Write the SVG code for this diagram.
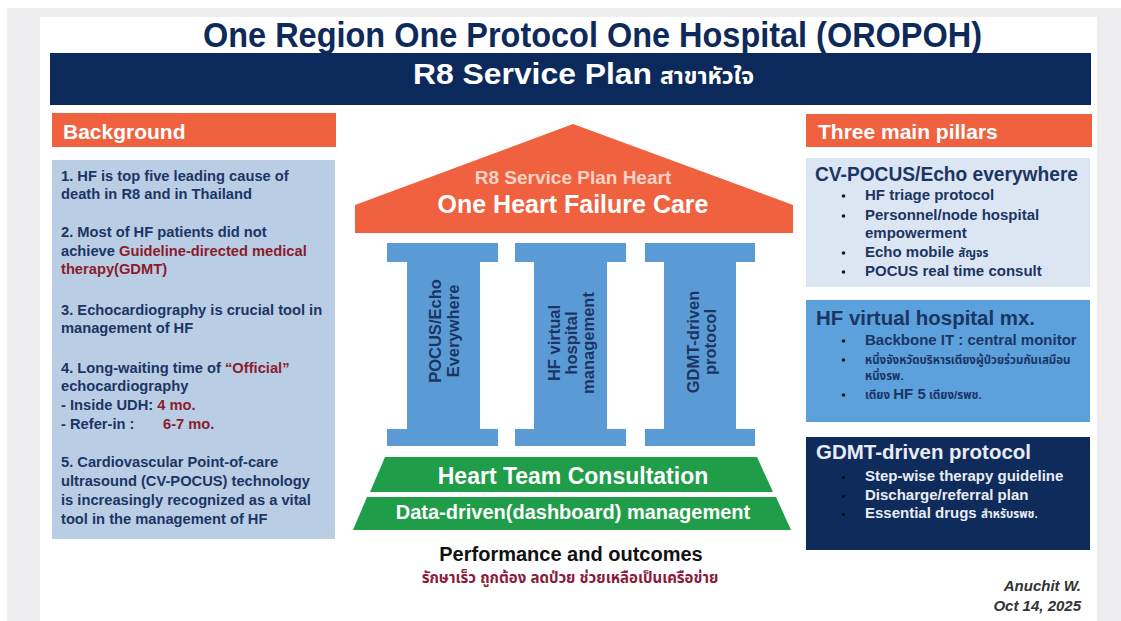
<svg xmlns="http://www.w3.org/2000/svg" width="1121" height="621" viewBox="0 0 1121 621">
  <style>
    text { font-family: "Liberation Sans", Arial, "Noto Sans Thai", "Noto Sans", sans-serif; font-weight: bold; }
    .navy { fill: #1b3564; }
    .red { fill: #8b1c2c; }
    .white { fill: #ffffff; }
    .bg { font-size: 14.7px; }
    .hdr { font-size: 21px; fill: #ffffff; }
    .ttl { font-size: 20px; }
    .item { font-size: 15px; }
    .thai-s { font-size: 11.5px; }
    .pil { font-size: 16.5px; fill: #1b3564; }
    .orange { fill: #f0623f; }
    .pillar { fill: #5b9bd5; }
    .green { fill: #1f9d48; }
    .dot { fill: #1a1a1a; }
  </style>

  <!-- page backdrop -->
  <rect x="0" y="0" width="1121" height="621" fill="#ffffff"/>
  <rect x="7" y="8" width="1114" height="613" fill="#eeeef0"/>
  <rect x="40" y="17" width="1057" height="604" fill="#ffffff"/>

  <!-- heading -->
  <g id="title">
    <text x="203" y="47" font-size="35" fill="#0e2a5a" textLength="779" lengthAdjust="spacingAndGlyphs">One Region One Protocol One Hospital (OROPOH)</text>
  </g>
  <g id="banner">
    <rect x="50" y="53" width="1041" height="52" fill="#0b2a5b"/>
    <text x="413" y="84" font-size="30" class="white" textLength="239" lengthAdjust="spacingAndGlyphs">R8 Service Plan</text>
    <text x="660" y="84" font-size="23" class="white">สาขาหัวใจ</text>
  </g>

  <!-- left column -->
  <g id="background-header">
    <rect x="52" y="113" width="284" height="34" class="orange"/>
    <text x="63" y="139" class="hdr">Background</text>
  </g>
  <g id="background-box">
    <rect x="52" y="160" width="283" height="379" fill="#b9cde5"/>
    <g class="bg navy">
      <text x="61" y="181">1. HF is top five leading cause of</text>
      <text x="61" y="199">death in R8 and in Thailand</text>
      <text x="61" y="237">2. Most of HF patients did not</text>
      <text x="61" y="256">achieve <tspan class="red">Guideline-directed medical</tspan></text>
      <text x="61" y="274" class="red">therapy(GDMT)</text>
      <text x="61" y="315">3. Echocardiography is crucial tool in</text>
      <text x="61" y="333">management of HF</text>
      <text x="61" y="373">4. Long-waiting time of <tspan class="red">“Official”</tspan></text>
      <text x="61" y="391">echocardiography</text>
      <text x="61" y="410">- Inside UDH:  <tspan class="red">4 mo.</tspan></text>
      <text x="61" y="429">- Refer-in :  <tspan x="163" class="red">6-7 mo.</tspan></text>
      <text x="61" y="467">5. Cardiovascular Point-of-care</text>
      <text x="61" y="486">ultrasound (CV-POCUS) technology</text>
      <text x="61" y="505">is increasingly recognized as a vital</text>
      <text x="61" y="524">tool in the management of HF</text>
    </g>
  </g>

  <!-- centre: roof, pillars, foundation -->
  <g id="roof">
    <polygon points="573,124 793,205 793,233 355,233 355,205" class="orange"/>
    <text x="573" y="184" font-size="19" fill="#fbd3c6" text-anchor="middle">R8 Service Plan Heart</text>
    <text x="573" y="213" font-size="25" class="white" text-anchor="middle">One Heart Failure Care</text>
  </g>

  <g id="pillar-pocus">
    <path d="M387,243 H498 V262 H480 V429 H498 V446 H387 V429 H407 V262 H387 Z" class="pillar"/>
    <g transform="translate(443,331) rotate(-90)" class="pil">
      <text x="0" y="-2" text-anchor="middle">POCUS/Echo</text>
      <text x="0" y="16" text-anchor="middle">Everywhere</text>
    </g>
  </g>
  <g id="pillar-virtual">
    <path d="M515,243 H626 V262 H607 V429 H626 V446 H515 V429 H534 V262 H515 Z" class="pillar"/>
    <g transform="translate(570,343) rotate(-90)" class="pil">
      <text x="0" y="-10" text-anchor="middle">HF virtual</text>
      <text x="0" y="7" text-anchor="middle">hospital</text>
      <text x="0" y="24" text-anchor="middle">management</text>
    </g>
  </g>
  <g id="pillar-gdmt">
    <path d="M645,243 H755 V262 H736 V429 H755 V446 H645 V429 H664 V262 H645 Z" class="pillar"/>
    <g transform="translate(701,342) rotate(-90)" class="pil">
      <text x="0" y="-2" text-anchor="middle">GDMT-driven</text>
      <text x="0" y="15" text-anchor="middle">protocol</text>
    </g>
  </g>

  <g id="heart-team">
    <polygon points="385,457 757,457 773,492 370,492" class="green"/>
    <text x="573" y="484" font-size="23" class="white" text-anchor="middle">Heart Team Consultation</text>
  </g>
  <g id="data-driven">
    <polygon points="367,497 776,497 791,530 353,530" class="green"/>
    <text x="573" y="519" font-size="20" class="white" text-anchor="middle">Data-driven(dashboard) management</text>
  </g>

  <g id="outcomes">
    <text x="571" y="561" font-size="20" fill="#111111" text-anchor="middle">Performance and outcomes</text>
    <text x="570" y="583" font-size="15" fill="#8b1a3a" text-anchor="middle">รักษาเร็ว ถูกต้อง ลดป่วย ช่วยเหลือเป็นเครือข่าย</text>
  </g>

  <!-- right column -->
  <g id="pillars-header">
    <rect x="806" y="114" width="286" height="33" class="orange"/>
    <text x="818" y="139" class="hdr">Three main pillars</text>
  </g>
  <g id="echo-everywhere">
    <rect x="806" y="158" width="284" height="129" fill="#dce6f2"/>
    <text x="815" y="181" class="ttl navy" textLength="263" lengthAdjust="spacingAndGlyphs">CV-POCUS/Echo everywhere</text>
    <g class="item navy">
      <text x="865" y="200">HF triage protocol</text>
      <text x="865" y="220">Personnel/node hospital</text>
      <text x="865" y="238">empowerment</text>
      <text x="865" y="257">Echo mobile <tspan class="thai-s">สัญจร</tspan></text>
      <text x="865" y="276">POCUS real time consult</text>
    </g>
    <g class="dot">
      <circle cx="843.5" cy="196" r="1.8"/>
      <circle cx="843.5" cy="216" r="1.8"/>
      <circle cx="843.5" cy="253" r="1.8"/>
      <circle cx="843.5" cy="272" r="1.8"/>
    </g>
  </g>
  <g id="virtual-hospital">
    <rect x="806" y="300" width="284" height="122" fill="#5ca0dc"/>
    <text x="816" y="325" class="ttl navy" textLength="219" lengthAdjust="spacingAndGlyphs">HF virtual hospital mx.</text>
    <g class="navy">
      <text x="865" y="345" class="item">Backbone IT : central monitor</text>
      <text x="865" y="364" class="thai-s">หนึ่งจังหวัดบริหารเตียงผู้ป่วยร่วมกันเสมือน</text>
      <text x="865" y="380" class="thai-s">หนึ่งรพ.</text>
      <text x="865" y="399" class="thai-s">เตียง <tspan font-size="15">HF 5</tspan>  เตียง/รพช.</text>
    </g>
    <g class="dot">
      <circle cx="843.5" cy="341" r="1.8"/>
      <circle cx="843.5" cy="360" r="1.8"/>
      <circle cx="843.5" cy="395" r="1.8"/>
    </g>
  </g>
  <g id="gdmt-protocol">
    <rect x="806" y="437" width="284" height="113" fill="#0e2b5c"/>
    <text x="816" y="459" class="ttl" fill="#e9edf3" textLength="215" lengthAdjust="spacingAndGlyphs">GDMT-driven protocol</text>
    <g class="item" fill="#e9edf3">
      <text x="865" y="481">Step-wise therapy guideline</text>
      <text x="865" y="500">Discharge/referral plan</text>
      <text x="865" y="518">Essential drugs <tspan class="thai-s">สำหรับรพช.</tspan></text>
    </g>
    <g fill="#0a0f1c">
      <rect x="842" y="476" width="3" height="3"/>
      <rect x="842" y="495" width="3" height="3"/>
      <rect x="842" y="513" width="3" height="3"/>
    </g>
  </g>

  <g id="author">
    <text x="1081" y="591" font-size="15" font-style="italic" fill="#333333" text-anchor="end">Anuchit W.</text>
    <text x="1081" y="611" font-size="15" font-style="italic" fill="#333333" text-anchor="end">Oct 14, 2025</text>
  </g>
</svg>
